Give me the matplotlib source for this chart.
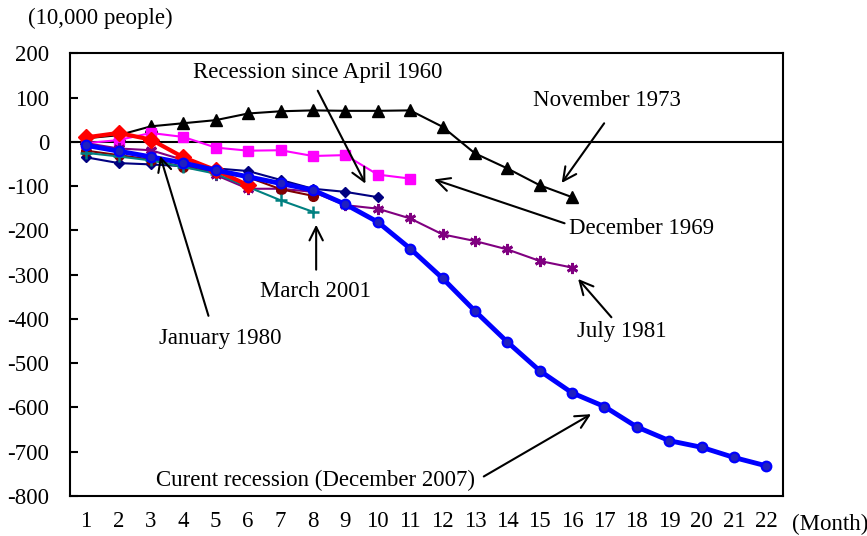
import numpy as np
import matplotlib
matplotlib.use('Agg')
import matplotlib.pyplot as plt

plt.rc('font', family='serif')
plt.rc('font', serif=['Liberation Serif', 'DejaVu Serif'])
plt.rcParams.update({'font.size': 16.5})
plt.rcParams['axes.unicode_minus'] = False

months = list(range(1, 23))

# cumulative change in employment since the peak, 10,000 people
nov1973 = [8, 15, 35, 42, 49, 64, 69, 71, 70, 70, 71, 34, -26, -60, -98, -125]
dec1969 = [-3, 4, 20, 11, -13, -20, -19, -32, -30, -74, -83]
jul1981 = [-3, -15, -19, -41, -75, -106, -106, -113, -143, -151, -173, -209,
           -224, -243, -269, -284]
apr1960 = [-35, -48, -51, -55, -60, -66, -86, -106, -113, -125]
jul1990 = [-20, -30, -40, -57, -68, -80, -107, -122]
mar2001 = [-25, -33, -42, -57, -72, -102, -132, -158]
jan1980 = [10, 20, 5, -35, -64, -98]
dec2007 = [-8, -21, -34, -48, -64, -79, -94, -109, -141, -181, -241, -308,
           -382, -452, -517, -567, -598, -644, -675, -690, -713, -732]

fig = plt.figure(figsize=(8.67, 5.36), dpi=100)
ax = fig.add_axes([0.0807, 0.0746, 0.822, 0.826])

def plot_series(vals, **kw):
    ax.plot(months[:len(vals)], vals, **kw)

plot_series(nov1973, color='black', marker='^', ms=8, lw=1.5)
plot_series(dec1969, color='#ff00ff', marker='s', ms=7.5, lw=1.5)
plot_series(jul1981, color='#800080', marker=(6, 2, 0), ms=8, mew=2, lw=1.5)
plot_series(apr1960, color='#000080', marker='D', ms=5.5, lw=1.5)
plot_series(jul1990, color='#800000', marker='o', ms=7, lw=1.5)
plot_series(mar2001, color='#008080', marker='+', ms=9, mew=1.8, lw=1.5)
plot_series(jan1980, color='#ff0000', marker='D', ms=8, lw=3)
plot_series(dec2007, color='#0000ff', marker='o', ms=7, lw=3.5, mec='#0000ff', mfc='#2020c0', mew=1.5)

ax.axhline(0, color='black', lw=1.5, zorder=1)

ax.set_xlim(0.5, 22.5)
ax.set_ylim(-800, 200)
ax.set_yticks(np.arange(-800, 201, 100))
ax.set_xticks(months)
ax.tick_params(axis='y', direction='in', length=6, width=1.5, pad=15)
ax.tick_params(axis='x', length=0, pad=11)
for sp in ax.spines.values():
    sp.set_linewidth(1.5)

arrow = dict(arrowstyle='->', color='black', lw=1.5, mutation_scale=24)
notes = [
    ('Recession since April 1960', (8.14, 157), (8.11, 121), (9.66, -100)),
    ('November 1973', (17.08, 94), (17.04, 47), (15.63, -98)),
    ('December 1969', (18.14, -195), (15.85, -186), (11.66, -83)),
    ('July 1981', (17.52, -428), (17.27, -401), (16.13, -305)),
    ('March 2001', (8.08, -338), (8.1, -295), (8.1, -181)),
    ('January 1980', (5.14, -444), (4.8, -399), (3.26, -26)),
    ('Curent recession (December 2007)', (8.08, -764), (13.2, -759), (16.66, -612)),
]
for label, txt, start, end in notes:
    ax.text(txt[0], txt[1], label, ha='center', va='center')
    ax.annotate('', xy=end, xytext=start, arrowprops=arrow)

fig.text(100 / 867, 1 - 18 / 536, '(10,000 people)', ha='center', va='center')
fig.text(830 / 867, 1 - 524 / 536, '(Month)', ha='center', va='center')

fig.savefig('out.png', dpi=100)
